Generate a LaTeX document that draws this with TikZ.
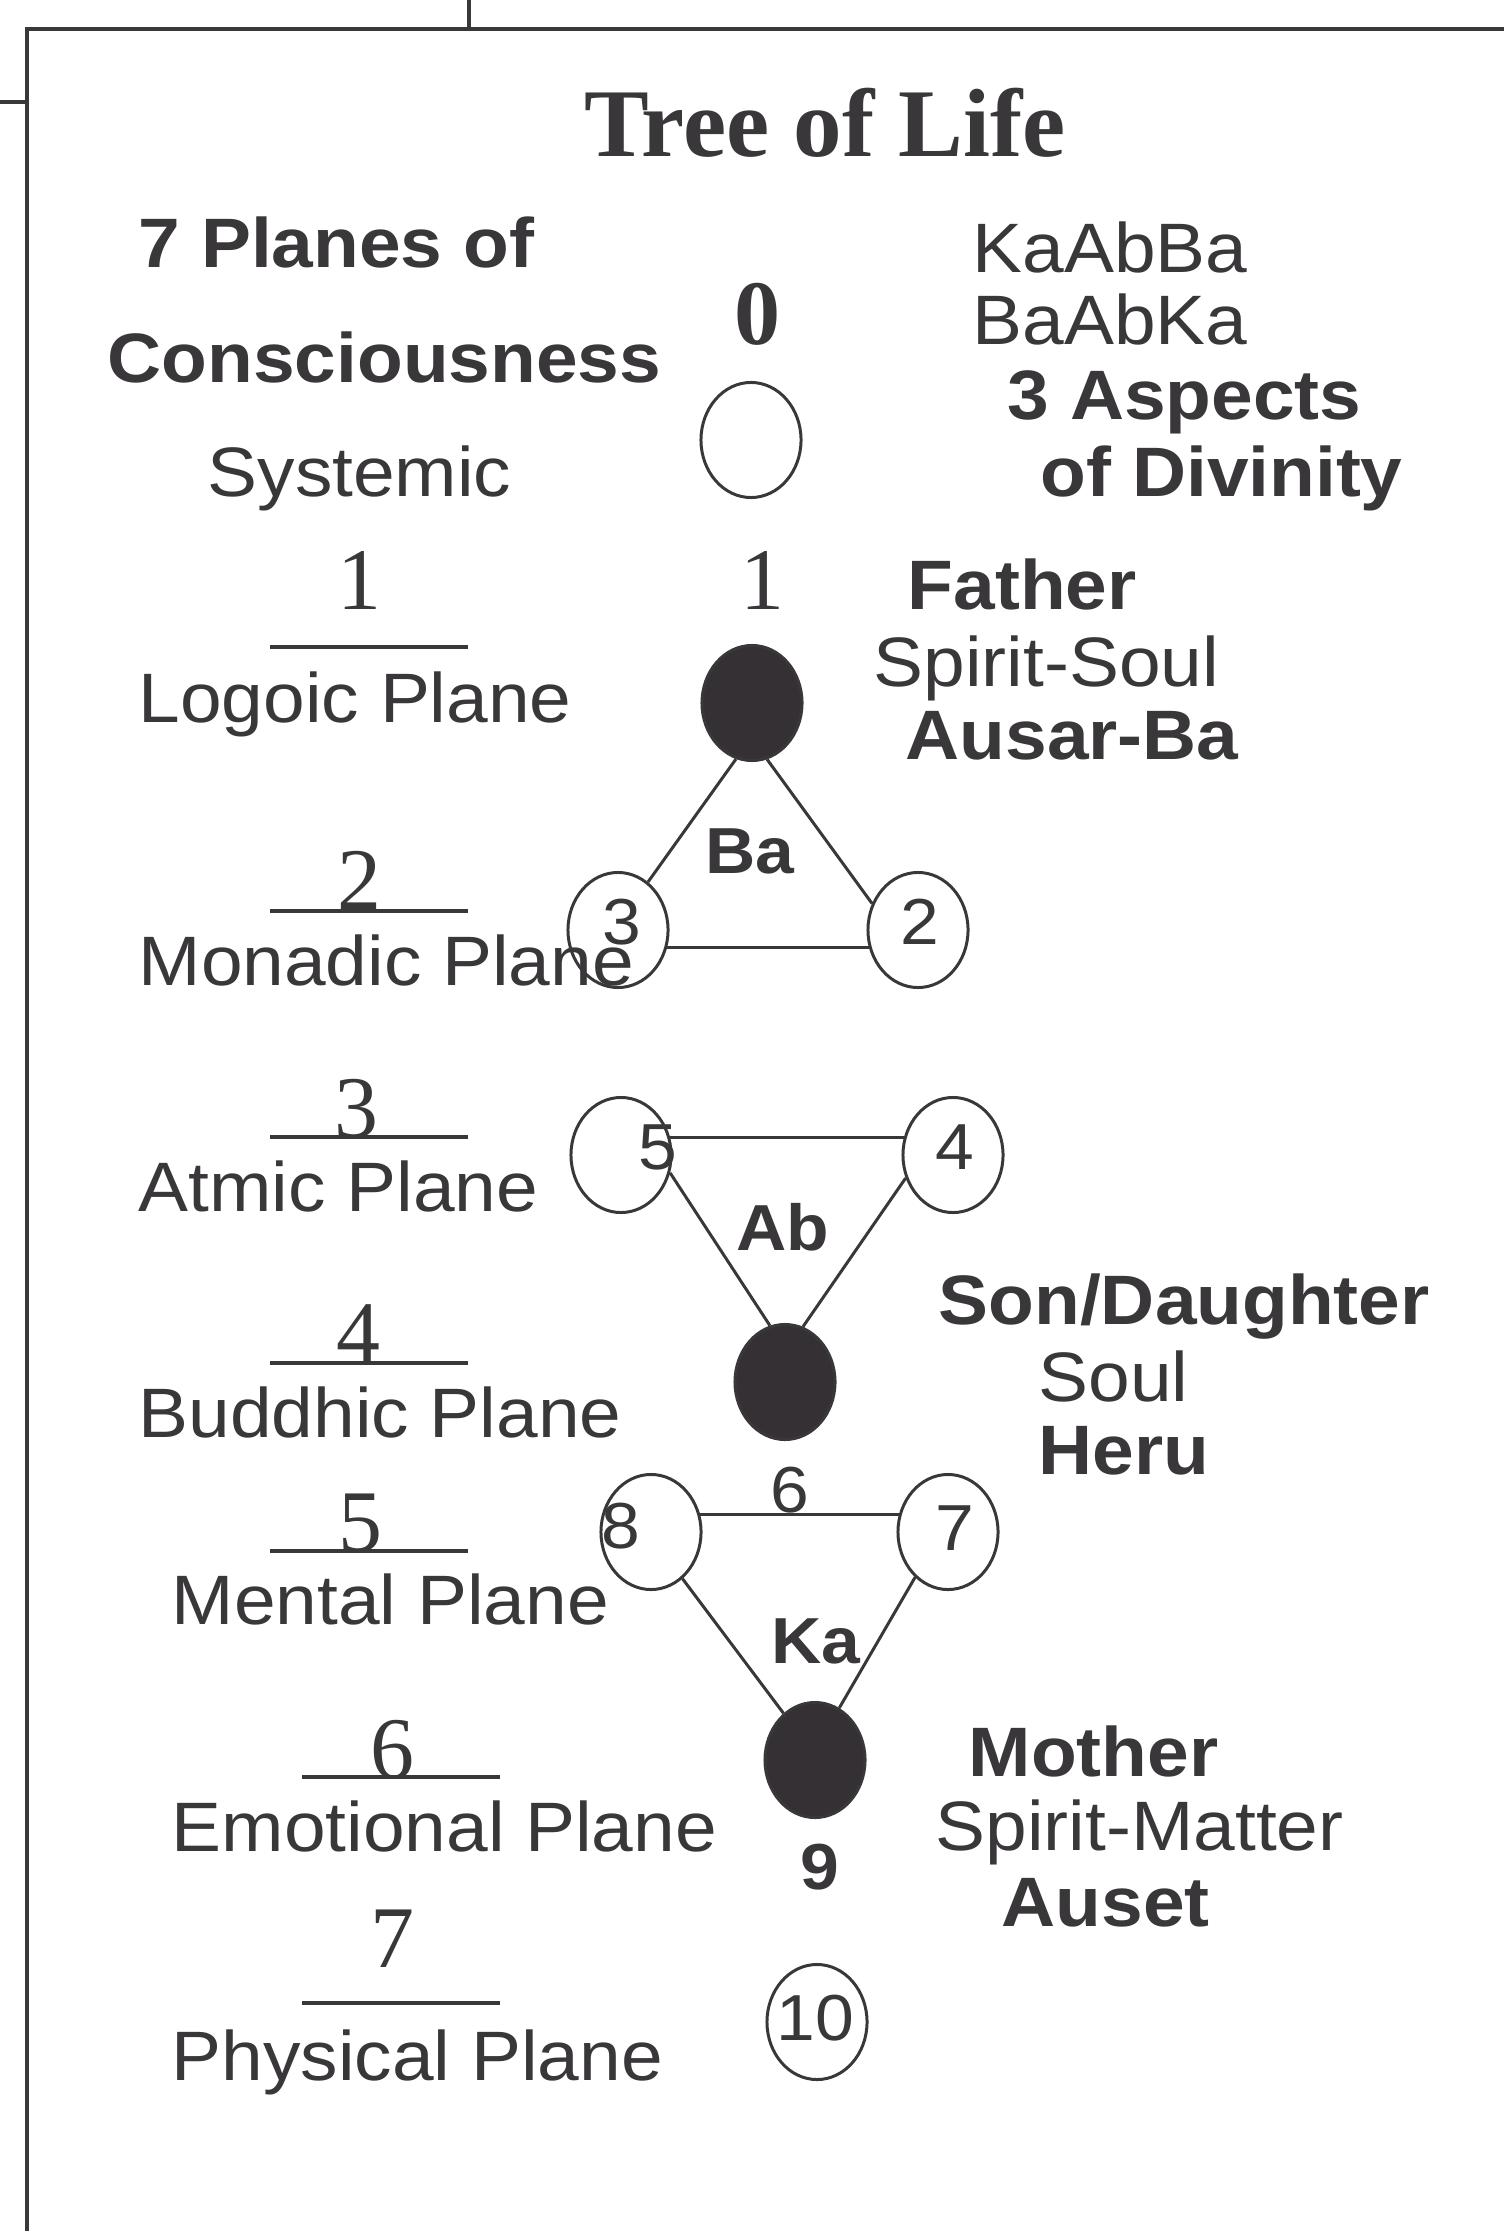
\documentclass[tikz,border=0pt]{standalone}
\usepackage{fontspec}
\setmainfont[FakeStretch=1.07]{Liberation Sans}
\newfontfamily\serifnum{Liberation Serif}
\usepackage{tikz}
\usetikzlibrary{shapes.geometric}
\definecolor{InkGray}{RGB}{58,55,58}
\definecolor{SefiraDark}{RGB}{52,48,52}

\begin{document}
\begin{tikzpicture}[x=0.01cm,y=-0.01cm,color=InkGray,
	lab/.style={inner sep=0pt,anchor=base west,font=\fontsize{19.9}{23}\selectfont},
	boldlab/.style={lab,font=\fontsize{19.9}{23}\selectfont\bfseries},
	planenum/.style={inner sep=0pt,anchor=base,font=\serifnum\fontsize{25}{28}\selectfont},
	sefnum/.style={inner sep=0pt,font=\fontsize{18.5}{21}\selectfont},
	pathlab/.style={inner sep=0pt,anchor=base,font=\fontsize{18.5}{21}\selectfont\bfseries},
	opencirc/.style={ellipse,draw,line width=0.85pt,minimum width=1cm,minimum height=1.15cm,inner sep=0pt},
	darkcirc/.style={opencirc,fill=SefiraDark},
	planeline/.style={line width=1.1pt},
	link/.style={line width=0.85pt},
	frameline/.style={line width=1.3pt}]
\useasboundingbox (0,0) rectangle (1504,2231);
\draw[frameline] (27,2231) -- (27,29) -- (1504,29);
\draw[frameline] (0,102) -- (27,102);
\draw[line width=1pt] (469,0) -- (469,29);

\node[inner sep=0pt,anchor=base,font=\serifnum\bfseries\fontsize{27.6}{30}\selectfont] (title) at (825,157) {Tree of Life};

\node[boldlab] (head1) at (138,268) {7 Planes of};
\node[boldlab] (head2) at (107,383) {Consciousness};
\node[lab] (head3) at (207,497) {Systemic};
\node[lab] (mant1) at (972,273) {KaAbBa};
\node[lab] (mant2) at (972,345) {BaAbKa};
\node[boldlab] (asp1) at (1007,420) {3 Aspects};
\node[boldlab] (asp2) at (1040,497) {of Divinity};

\foreach \n/\x/\y in {1/359/610, 2/359/909, 3/356/1137, 4/358/1362, 5/360/1551, 6/392/1778, 7/392/1967}
	\node[planenum] (num\n) at (\x,\y) {\n};
\foreach \a/\b/\y in {270/468/647, 270/468/911, 270/468/1137, 270/468/1363, 270/468/1551, 302/500/1777, 302/500/2003}
	\draw[planeline] (\a,\y) -- (\b,\y);
\foreach \t/\x/\y [count=\i] in {Logoic Plane/138/722, Monadic Plane/138/985, Atmic Plane/138/1211, Buddhic Plane/138/1437, Mental Plane/171/1624, Emotional Plane/171/1851, Physical Plane/171/2080}
	\node[lab] (plane\i) at (\x,\y) {\t};

\node[inner sep=0pt,anchor=base,font=\serifnum\bfseries\fontsize{26.2}{29}\selectfont] (zero) at (758,345) {0};
\node[planenum] (one) at (762,610) {1};

\node[opencirc] (c0) at (751,440) {};
\node[darkcirc] (f1) at (752,703) {};
\node[opencirc] (c2) at (918,930) {};
\node[opencirc] (c3) at (618,930) {};
\node[opencirc] (c4) at (953,1155) {};
\node[opencirc] (c5) at (621,1155) {};
\node[darkcirc] (f6) at (785,1382) {};
\node[opencirc] (c7) at (948,1532) {};
\node[opencirc] (c8) at (651,1532) {};
\node[darkcirc] (f9) at (815,1760) {};
\node[opencirc] (c10) at (817,2022) {};

\node[sefnum] (d2) at (920,922) {2};
\node[sefnum] (d3) at (622,922) {3};
\node[sefnum] (d4) at (955,1147) {4};
\node[sefnum] (d5) at (658,1147) {5};
\node[sefnum] (d7) at (955,1528) {7};
\node[sefnum] (d8) at (621,1526) {8};
\node[sefnum] (d10) at (815,2018) {10};
\node[inner sep=0pt,anchor=base,font=\fontsize{18.5}{21}\selectfont] (d6) at (790,1512) {6};
\node[pathlab] (d9) at (820,1889) {9};

\draw[link] (f1.254) -- (c3.58);
\draw[link] (f1.285) -- (c2.150);
\draw[link] (c3.-20) -- (c2.200);
\draw[link] (c5.20) -- (c4.160);
\draw[link] (c5.-20) -- (f6.105);
\draw[link] (c4.206) -- (f6.72);
\draw[link] (c8.20) -- (c7.160);
\draw[link] (c8.304) -- (f9.124);
\draw[link] (c7.234) -- (f9.65);

\node[pathlab] (ba) at (750,873) {Ba};
\node[pathlab] (ab) at (783,1250) {Ab};
\node[pathlab] (ka) at (816,1663) {Ka};

\node[boldlab] (father) at (907,610) {Father};
\node[lab] (father2) at (873,686) {Spirit-Soul};
\node[boldlab] (father3) at (905,759) {Ausar-Ba};
\node[boldlab] (son) at (938,1324) {Son/Daughter};
\node[lab] (son2) at (1038,1401) {Soul};
\node[boldlab] (son3) at (1038,1474) {Heru};
\node[boldlab] (mother) at (968,1776) {Mother};
\node[lab] (mother2) at (935,1850) {Spirit-Matter};
\node[boldlab] (mother3) at (1001,1926) {Auset};
\end{tikzpicture}
\end{document}
